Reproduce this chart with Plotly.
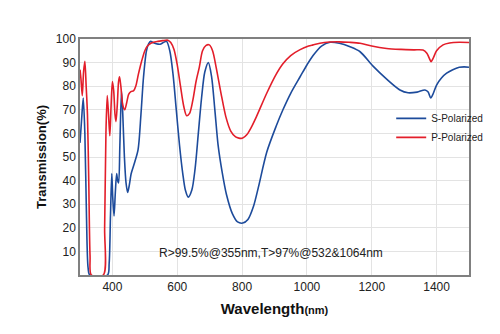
import plotly.graph_objects as go

s_wl = [300, 305, 310, 315, 320, 325, 330, 385, 390, 394, 398, 401, 405, 409, 413, 416, 419, 423, 428, 432, 437, 442, 447, 452, 458, 467, 479, 488, 496, 505, 512, 518, 525, 535, 547, 557, 567, 577, 587, 597, 607, 617, 625, 634, 645, 655, 665, 675, 685, 696, 706, 716, 726, 738, 752, 770, 786, 802, 818, 835, 850, 876, 905, 926, 950, 979, 1000, 1019, 1045, 1071, 1100, 1133, 1164, 1204, 1246, 1287, 1312, 1340, 1364, 1374, 1382, 1390, 1400, 1415, 1431, 1450, 1470, 1485, 1500]
s_t = [56, 66, 75, 60, 25, 3, 0, 0, 5, 25, 43, 33, 25, 35, 43, 40, 39, 55, 78, 68, 50, 39, 35, 38, 43, 47, 53, 68, 84, 95, 98, 99, 98.5, 98, 97.8, 98.5, 99, 95, 85, 70, 55, 43, 36, 33, 36, 45, 60, 75, 86, 90, 84, 70, 55, 44, 34, 26, 22.5, 22, 23.5, 29, 37, 52, 63, 70, 77, 84, 89, 93, 97, 98.6, 98.2, 96.7, 94.6, 88.5, 83, 78.4, 77.2, 77.5, 78.4, 77.5, 75, 77, 80.5, 83.5, 85.5, 87, 88, 88.2, 88]

p_wl = [300, 303, 307, 311, 315, 319, 323, 327, 331, 335, 372, 376, 380, 384, 388, 392, 396, 400, 404, 408, 411, 415, 419, 422, 426, 432, 438, 444, 450, 457, 465, 472, 480, 487, 493, 500, 508, 520, 540, 555, 571, 580, 590, 600, 610, 620, 629, 638, 648, 658, 668, 678, 689, 699, 709, 720, 735, 750, 765, 780, 790, 802, 815, 830, 844, 876, 905, 926, 950, 979, 1005, 1019, 1040, 1070, 1100, 1130, 1164, 1200, 1246, 1290, 1330, 1358, 1370, 1377, 1383, 1390, 1400, 1420, 1440, 1470, 1500]
p_t = [87, 83, 76, 86, 90.5, 80, 68, 40, 8, 0, 0, 20, 60, 76, 68, 59, 72, 82, 78, 68, 65, 72, 82, 84, 80, 72, 70, 73, 76.5, 77.7, 78, 80, 85, 89, 92, 95, 97, 98.3, 99, 99.3, 99.5, 98.5, 95.5, 89, 80, 71.5, 67.5, 68.5, 74, 82, 88, 95, 97.3, 97.5, 95, 88, 77, 67, 61, 58.5, 58, 58, 59.5, 63, 67, 77, 85, 89.5, 93, 95.5, 97, 97.5, 98.2, 98.7, 98.8, 98.6, 98.2, 97, 96, 95.6, 95.4, 95.3, 94, 92, 90.4, 92, 95, 97.5, 98.3, 98.6, 98.5]

x_ticks = [400, 600, 800, 1000, 1200, 1400]
y_ticks = [10, 20, 30, 40, 50, 60, 70, 80, 90, 100]
note = "R>99.5%@355nm,T>97%@532&1064nm"

fig = go.Figure()
fig.add_trace(go.Scatter(x=s_wl, y=s_t, mode="lines", name="S-Polarized",
                         line=dict(color="#1D4B9B", width=1.6, shape="spline", smoothing=0.8)))
fig.add_trace(go.Scatter(x=p_wl, y=p_t, mode="lines", name="P-Polarized",
                         line=dict(color="#E31E2A", width=1.6, shape="spline", smoothing=0.8)))

fig.add_annotation(x=0.49, y=0.055, xref="paper", yref="paper", text=note, showarrow=False,
                   font=dict(family="Liberation Sans, Arial", size=12, color="#222"))

fig.update_layout(
    width=500, height=334,
    margin=dict(l=80, r=31, t=39, b=59),
    paper_bgcolor="white", plot_bgcolor="white",
    font=dict(family="Liberation Sans, Arial", size=11, color="#222"),
    legend=dict(x=0.80, y=0.725, xanchor="left", yanchor="top", bgcolor="rgba(0,0,0,0)",
                font=dict(size=10, color="#222"), tracegroupgap=0, itemwidth=30),
    xaxis=dict(range=[300, 1500], tickvals=x_ticks, showgrid=True, gridcolor="#E3E3E3",
               showline=True, linecolor="#808080", linewidth=1.5, mirror=True, ticks="",
               zeroline=False, tickfont=dict(size=12),
               title=dict(text="<b>Wavelength<span style='font-size:11px'>(nm)</span></b>",
                          font=dict(size=15, color="#111"), standoff=10)),
    yaxis=dict(range=[0, 100], tickvals=y_ticks, showgrid=True, gridcolor="#E3E3E3",
               showline=True, linecolor="#808080", linewidth=1.5, mirror=True, ticks="",
               zeroline=False, tickfont=dict(size=12),
               title=dict(text="<b>Transmission(%)</b>", font=dict(size=13, color="#111"), standoff=6)),
)

fig.write_html("out.html")
